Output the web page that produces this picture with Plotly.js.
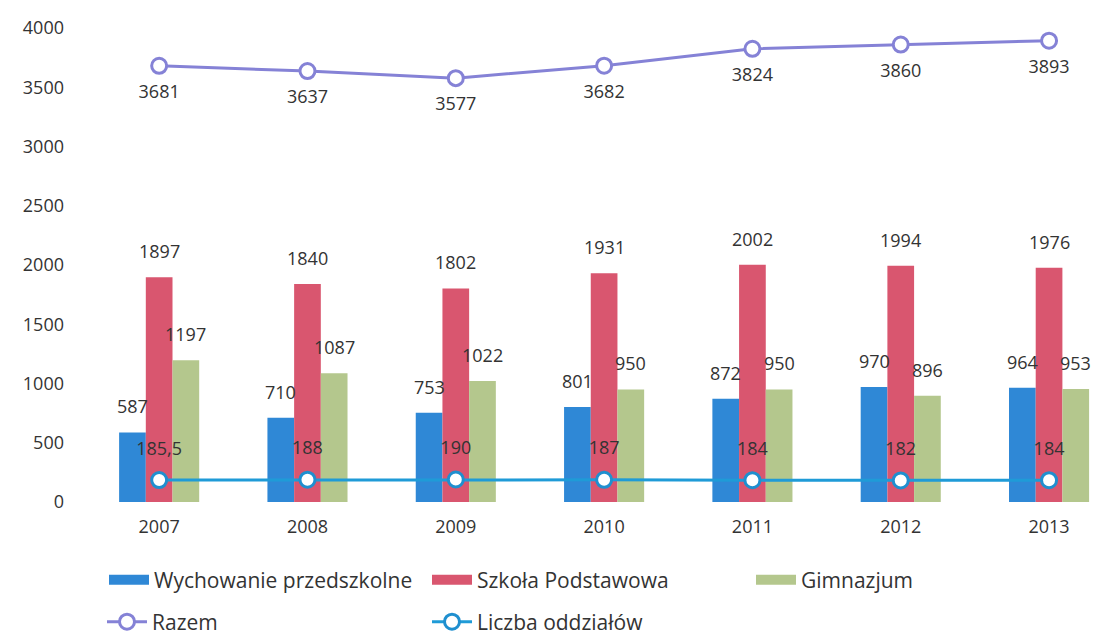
<!DOCTYPE html>
<html>
<head>
<meta charset="utf-8">
<script src="https://cdn.plot.ly/plotly-3.0.1.min.js"></script>
<style>html,body{margin:0;padding:0;background:#fff;}#chart{width:1098px;height:636px;}#err{position:absolute;top:0;left:300px;color:red;font-size:12px;}</style>
</head>
<body>
<div id="chart"></div>
<div id="err"></div>
<script>
window.onerror = function(m){ document.getElementById('err').textContent += ' ' + m; };
const years = ['2007','2008','2009','2010','2011','2012','2013'];
const przedszkolne = [587, 710, 753, 801, 872, 970, 964];
const podstawowa = [1897, 1840, 1802, 1931, 2002, 1994, 1976];
const gimnazjum = [1197, 1087, 1022, 950, 950, 896, 953];
const razem = [3681, 3637, 3577, 3682, 3824, 3860, 3893];
const oddzialy = [185.5, 188, 190, 187, 184, 182, 184];
const yTicks = [0, 500, 1000, 1500, 2000, 2500, 3000, 3500, 4000];

const fontFam = '"Open Sans", "Noto Sans", sans-serif';
const txtColor = '#333333';
const barColors = ['#2f88d6', '#d9566f', '#b4c78d'];
const barNames = ['Wychowanie przedszkolne', 'Szkoła Podstawowa', 'Gimnazjum'];
const barSeries = [przedszkolne, podstawowa, gimnazjum];
const legendIds = ['legend', 'legend2', 'legend3'];

const W = 1098, H = 636, ML = 85, MR = 0;
const xRange = [-0.5, 6.33];
const bargap = 0.46;
const pxPerCat = (W - ML - MR) / (xRange[1] - xRange[0]);
const barPx = (1 - bargap) / 3 * pxPerCat;

const traces = [];
barSeries.forEach((vals, i) => {
  traces.push({type:'bar', name:barNames[i], x:years, y:vals,
    marker:{color:barColors[i]}, showlegend:false, hoverinfo:'skip'});
});
barSeries.forEach((vals, i) => {
  traces.push({type:'scatter', mode:'lines', name:barNames[i], x:[null], y:[null],
    line:{color:barColors[i], width:12}, legend:legendIds[i]});
});
traces.push(
  {type:'scatter', mode:'lines+markers', name:'Razem', x:years, y:razem,
   line:{color:'#8582d6', width:3},
   marker:{symbol:'circle', size:15, color:'#ffffff', line:{color:'#8582d6', width:3}},
   cliponaxis:false, legend:'legend4'},
  {type:'scatter', mode:'lines+markers', name:'Liczba oddziałów', x:years, y:oddzialy,
   line:{color:'#1f9bd7', width:3},
   marker:{symbol:'circle', size:15, color:'#ffffff', line:{color:'#1f8fcf', width:3}},
   cliponaxis:false, legend:'legend5'},
  {type:'scatter', mode:'markers+text', x:years, y:razem, showlegend:false, hoverinfo:'skip',
   marker:{size:28, color:'rgba(0,0,0,0)'},
   text:razem.map(String), textposition:'bottom center',
   textfont:{size:18, color:txtColor}, cliponaxis:false},
  {type:'scatter', mode:'markers+text', x:years, y:oddzialy, showlegend:false, hoverinfo:'skip',
   marker:{size:32, color:'rgba(0,0,0,0)'},
   text:oddzialy.map(v => String(v).replace('.', ',')), textposition:'top center',
   textfont:{size:18, color:txtColor}, cliponaxis:false}
);

const annotations = [];
barSeries.forEach((vals, i) => {
  vals.forEach((v, j) => {
    annotations.push({x:j, y:v, xref:'x', yref:'y', text:String(v),
      showarrow:false, xshift:(i - 1) * barPx, yshift:26,
      font:{size:18, color:txtColor}});
  });
});

function leg(px, py){
  return {xref:'container', yref:'container', x:px/W, y:1-py/H,
    xanchor:'left', yanchor:'middle', orientation:'h', bgcolor:'rgba(0,0,0,0)',
    font:{family:fontFam, size:21, color:txtColor}, itemwidth:40};
}

const layout = {
  width:W, height:H,
  paper_bgcolor:'#ffffff', plot_bgcolor:'#ffffff',
  font:{family:fontFam, size:18, color:txtColor},
  margin:{l:ML, r:MR, t:28, b:134},
  barmode:'group', bargap:bargap, bargroupgap:0,
  xaxis:{type:'category', range:xRange, showgrid:false, showline:false,
    zeroline:false, ticks:'', ticklabelstandoff:12, tickfont:{size:18, color:txtColor}},
  yaxis:{range:[0, 4000], tickvals:yTicks, ticktext:yTicks.map(String),
    showgrid:false, showline:false, zeroline:false, ticks:'',
    ticklabelstandoff:20, tickfont:{size:18, color:txtColor}},
  annotations:annotations,
  showlegend:true,
  legend: leg(104, 580),
  legend2: leg(427, 580),
  legend3: leg(751, 580),
  legend4: leg(102, 622),
  legend5: leg(427, 622)
};

Plotly.newPlot('chart', traces, layout, {displayModeBar:false, staticPlot:true})
  .catch(e => { document.getElementById('err').textContent += ' ' + e; });
</script>
</body>
</html>
